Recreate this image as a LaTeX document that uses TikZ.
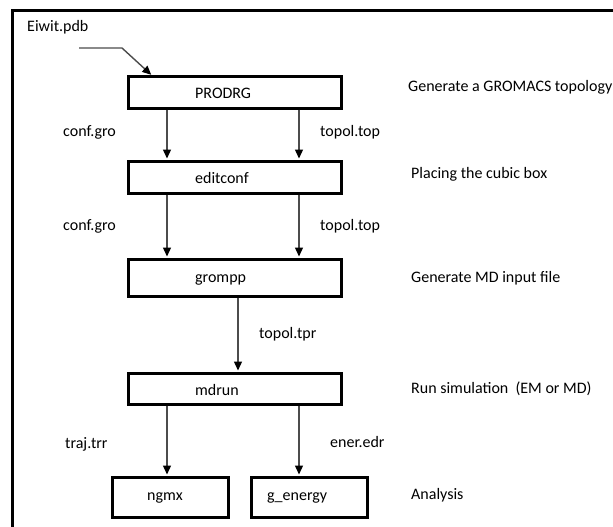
\documentclass[tikz,border=0pt]{standalone}
\usepackage{fontspec}
\setmainfont{Carlito}
\usetikzlibrary{arrows.meta}
\tikzset{
	stage/.style={draw, line width=3pt, minimum width=213pt, minimum height=31pt, inner sep=0pt},
	flow/.style={draw=black!70, line width=1.4pt, shorten >=1pt, -{Triangle[width=8pt,length=9pt,color=black]}},
	file/.style={anchor=base west, inner sep=0pt},
}
\begin{document}
\begin{tikzpicture}[x=1pt, y=-1pt, font=\fontsize{16}{19}\selectfont]
\useasboundingbox (0,0) rectangle (613,527);
\draw[line width=3pt] (613,11) -- (12,11) -- (12,527);
% the programs
\node[stage] (prodrg) at (234.5,92.5) {};
\node[stage, minimum height=32pt] (editconf) at (234.5,177) {};
\node[stage, minimum height=37pt] (grompp) at (234.5,277.5) {};
\node[stage, minimum height=31pt] (mdrun) at (234.5,388.5) {};
\node[stage, minimum width=116pt, minimum height=40pt] (ngmx) at (170,497) {};
\node[stage, minimum width=116pt, minimum height=40pt] (genergy) at (309,497) {};
\foreach \n / \x / \y / \t in {prodrgtxt/195/99/PRODRG, editconftxt/195/183/editconf,
		gromapptxt/195/282/grompp, mdruntxt/195/395/mdrun, ngmxtxt/147/500/ngmx, genergytxt/267/500/g\_energy} {
	\node[file] (\n) at (\x,\y) {\t};
}
% the files
\coordinate (lx) at (167,0);
\coordinate (rx) at (299,0);
\coordinate (mx) at (238,0);
\coordinate (in) at (152,0);
\coordinate (src) at (79,48);
\node[file] (pdb) at (27,32) {Eiwit.pdb};
\draw[flow] (src) -- (122,48) -- (prodrg.north -| in);
\draw[flow] (prodrg.south -| lx) -- (editconf.north -| lx);
\draw[flow] (prodrg.south -| rx) -- (editconf.north -| rx);
\draw[flow] (editconf.south -| lx) -- (grompp.north -| lx);
\draw[flow] (editconf.south -| rx) -- (grompp.north -| rx);
\draw[flow] (grompp.south -| mx) -- (mdrun.north -| mx);
\draw[flow] (mdrun.south -| lx) -- (ngmx.north -| lx);
\draw[flow] (mdrun.south -| rx) -- (genergy.north -| rx);
\foreach \n / \x / \y / \t in {confa/63/136/conf.gro, topa/320/136/topol.top, confb/63/230/conf.gro,
		topb/320/230/topol.top, tpr/259/338/topol.tpr, trr/65/448/traj.trr, edr/330/447/ener.edr} {
	\node[file] (\n) at (\x,\y) {\t};
}
% what each step does
\foreach \n / \x / \y / \t in {topo/408/92/Generate a GROMACS topology, cubic/411/178/Placing the cubic box,
		mdin/411/282/Generate MD input file, sim/411/393/Run simulation~ (EM or MD), ana/411/499/Analysis} {
	\node[file] (\n) at (\x,\y) {\t};
}
\end{tikzpicture}
\end{document}
